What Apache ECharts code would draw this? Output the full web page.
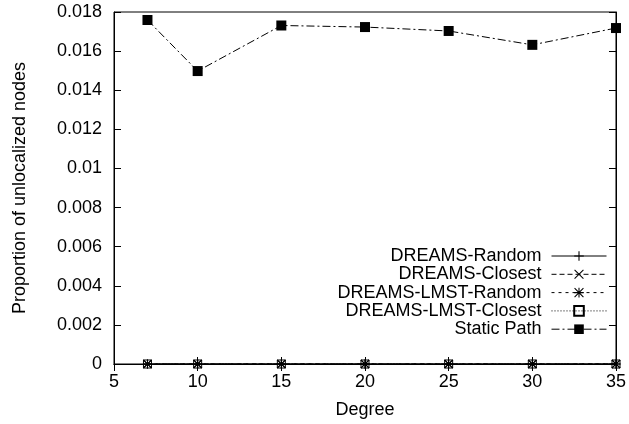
<!DOCTYPE html>
<html><head><meta charset="utf-8">
<script src="https://cdn.jsdelivr.net/npm/echarts@6/dist/echarts.min.js"></script>
<style>html,body{margin:0;padding:0;background:#fff}#c{width:629px;height:424px}</style>
</head><body><div id="c"></div>
<script>
var degrees = [7, 10, 15, 20, 25, 30, 35];
var dreamsRandom = [0, 0, 0, 0, 0, 0, 0];
var dreamsClosest = [0, 0, 0, 0, 0, 0, 0];
var lmstRandom = [0, 0, 0, 0, 0, 0, 0];
var lmstClosest = [0, 0, 0, 0, 0, 0, 0];
var staticPath = [0.01759, 0.01498, 0.01731, 0.01723, 0.01703, 0.01632, 0.01718];
var seriesNames = ['DREAMS-Random', 'DREAMS-Closest', 'DREAMS-LMST-Random', 'DREAMS-LMST-Closest', 'Static Path'];
var xTicks = [5, 10, 15, 20, 25, 30, 35];
var yTicks = [0, 0.002, 0.004, 0.006, 0.008, 0.01, 0.012, 0.014, 0.016, 0.018];

var FONT = 'Liberation Sans, Arial, Helvetica, sans-serif';
var FS = 18;
function pairs(vals){ return degrees.map(function(d,i){ return [d, vals[i]]; }); }
var PLUS = 'path://M4,0h1v9h-1zM0,4h9v1h-9z';
var CROSS = 'path://M0,0.7L0.7,0L9,8.3L8.3,9ZM8.3,0L9,0.7L0.7,9L0,8.3Z';
var STAR = 'path://M4,0h1v9h-1zM0,0.7L0.7,0L9,8.3L8.3,9ZM8.3,0L9,0.7L0.7,9L0,8.3ZM0,4h9v1h-9z';

function mk(name, vals, symbol, size, dash, itemStyle, z){
  return {
    name: name, type: 'line', data: pairs(vals),
    symbol: symbol, symbolSize: size, showSymbol: true, clip: false,
    lineStyle: {color: '#000', width: 1, type: dash},
    itemStyle: itemStyle || {color: '#000', borderWidth: 0},
    emphasis: {disabled: true}, animation: false, z: z || 3
  };
}

var chart = echarts.init(document.getElementById('c'), null, {renderer: 'canvas'});
chart.setOption({
  backgroundColor: '#fff',
  animation: false,
  textStyle: {fontFamily: FONT},
  grid: {left: 114, right: 10, top: 12, bottom: 60, show: true, borderColor: '#000', borderWidth: 1, backgroundColor: 'transparent'},
  legend: {
    data: seriesNames, orient: 'vertical', right: 22, top: 247, align: 'right',
    itemWidth: 55, itemHeight: 12, itemGap: 0.3,
    lineStyle: {width: 1},
    textStyle: {fontFamily: FONT, fontSize: FS, color: '#000', padding: [0, 5, 0, 0]},
    padding: 0, selectedMode: false
  },
  xAxis: [{
    type: 'value', min: 5, max: 35, interval: 5, position: 'bottom',
    name: 'Degree', nameLocation: 'middle', nameGap: 37,
    nameTextStyle: {fontFamily: FONT, fontSize: FS, color: '#000'},
    axisLine: {show: true, lineStyle: {color: '#000', width: 1}},
    axisTick: {show: true, inside: true, length: 7, lineStyle: {color: '#000'}},
    axisLabel: {fontFamily: FONT, fontSize: FS, color: '#000', margin: 9},
    splitLine: {show: false}
  }, {
    type: 'value', min: 5, max: 35, interval: 5, position: 'top',
    axisLine: {show: true, lineStyle: {color: '#000', width: 1}},
    axisTick: {show: true, inside: true, length: 7, lineStyle: {color: '#000'}},
    axisLabel: {show: false}, splitLine: {show: false}
  }],
  yAxis: [{
    type: 'value', min: 0, max: 0.018, interval: 0.002, position: 'left',
    name: 'Proportion of unlocalized nodes', nameLocation: 'middle', nameGap: 85, nameRotate: 90,
    nameTextStyle: {fontFamily: FONT, fontSize: FS, color: '#000'},
    axisLine: {show: true, lineStyle: {color: '#000', width: 1}},
    axisTick: {show: true, inside: true, length: 7, lineStyle: {color: '#000'}},
    axisLabel: {fontFamily: FONT, fontSize: FS, color: '#000', margin: 12,
      formatter: function(v){ var r = Math.round(v*1000)/1000; return r === 0 ? '0' : String(r); }},
    splitLine: {show: false}
  }, {
    type: 'value', min: 0, max: 0.018, interval: 0.002, position: 'right',
    axisLine: {show: true, lineStyle: {color: '#000', width: 1}},
    axisTick: {show: true, inside: true, length: 7, lineStyle: {color: '#000'}},
    axisLabel: {show: false}, splitLine: {show: false}
  }],
  series: [
    mk(seriesNames[0], dreamsRandom, PLUS, 9, 'solid', null, 4),
    mk(seriesNames[1], dreamsClosest, CROSS, 9, [5, 3], null, 4),
    mk(seriesNames[2], lmstRandom, STAR, 9, [3, 4], null, 4),
    mk(seriesNames[3], lmstClosest, 'rect', 8, [1, 2], {color: 'rgba(0,0,0,0)', borderColor: '#000', borderWidth: 1}, 5),
    mk(seriesNames[4], staticPath, 'rect', 10, [8, 3, 2, 3], {color: '#000', borderWidth: 0}, 3)
  ]
});
</script></body></html>
